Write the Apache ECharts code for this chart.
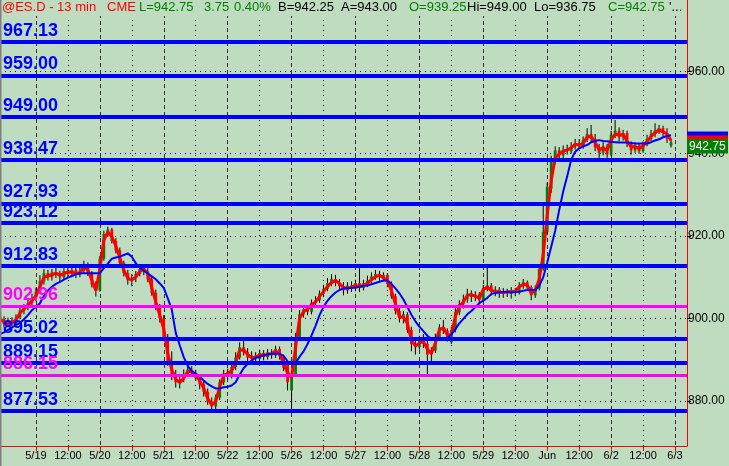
<!DOCTYPE html>
<html><head><meta charset="utf-8">
<script src="https://cdn.jsdelivr.net/npm/echarts@6/dist/echarts.min.js"></script>
<style>html,body{margin:0;padding:0;background:#c0dcc0;}#c{width:729px;height:466px;}</style>
</head><body><div id="c"></div>
<script>
// ---- data ----
const dayLabels = ['5/19','5/20','5/21','5/22','5/26','5/27','5/28','5/29','Jun','6/2','6/3'];
const noonLabel = '12:00';
const barCount = 173;          // slots on the time axis
const firstTickBar = 9;        // bar index of the first day boundary (5/19)
const barsPerHalfDay = 8;

const opens = [900.5,899.8,898.6,899.4,898.7,900.2,901.9,902.6,903.8,904.9,
906.5,909.0,911.0,910.0,911.2,910.6,910.0,911.5,910.8,911.8,
910.6,911.6,913.0,911.0,908.2,906.8,914.5,920.5,921.6,918.8,
916.5,913.5,911.0,909.3,909.8,910.8,912.0,911.4,909.5,906.2,
902.8,900.0,895.5,889.5,886.2,884.5,885.2,886.5,887.6,886.6,
885.5,884.0,882.2,879.8,878.6,880.8,884.5,886.6,886.0,888.2,
890.5,893.0,891.8,890.5,891.0,890.2,891.6,890.6,891.8,891.0,
892.6,890.8,889.0,882.5,886.5,895.5,901.0,902.2,901.6,903.8,
904.4,906.0,907.2,908.6,909.6,908.6,907.8,906.8,908.0,907.2,
908.6,907.4,908.6,909.2,910.2,910.8,910.0,910.6,908.4,905.4,
901.8,900.0,901.0,897.2,893.8,893.0,895.0,893.8,891.2,892.2,
895.5,897.8,897.0,894.2,897.2,901.5,903.5,904.6,906.0,905.2,
905.8,904.4,907.4,908.0,906.4,907.0,906.0,906.6,906.0,906.8,
906.2,908.0,908.8,907.6,905.6,907.2,912.0,921.0,931.5,938.0,
940.8,939.6,941.0,940.6,941.8,942.6,941.8,943.4,944.8,943.6,
941.6,940.2,941.8,939.8,944.6,945.6,944.0,945.0,942.4,940.8,
942.0,940.6,942.4,943.6,944.8,945.6,946.2,945.0,942.0];

const closes = [899.8,898.6,899.4,898.7,900.2,901.9,902.6,903.8,904.9,906.5,
909.0,911.0,910.0,911.2,910.6,910.0,911.5,910.8,911.8,910.6,
911.6,913.0,911.0,908.2,906.8,914.5,920.5,921.6,918.8,916.5,
913.5,911.0,909.3,909.8,910.8,912.0,911.4,909.5,906.2,902.8,
900.0,895.5,889.5,886.2,884.5,885.2,886.5,887.6,886.6,885.5,
884.0,882.2,879.8,878.6,880.8,884.5,886.6,886.0,888.2,890.5,
893.0,891.8,890.5,891.0,890.2,891.6,890.6,891.8,891.0,892.6,
890.8,888.0,884.5,886.5,895.5,901.0,902.2,901.6,903.8,904.4,
906.0,907.2,908.6,909.6,908.6,907.8,906.8,908.0,907.2,908.6,
907.4,908.6,909.2,910.2,910.8,910.0,910.6,908.4,905.4,901.8,
900.0,901.0,897.2,893.8,893.0,895.0,893.8,891.2,892.2,895.5,
897.8,897.0,895.2,897.2,901.5,903.5,904.6,906.0,905.2,905.8,
904.4,907.4,908.0,906.4,907.0,906.0,906.6,906.0,906.8,906.2,
908.0,908.8,907.6,905.6,907.2,912.0,921.0,932.0,938.0,940.8,
939.6,941.0,940.6,941.8,942.6,941.8,943.4,944.8,943.6,941.6,
940.2,941.8,939.8,944.6,945.6,944.0,945.0,942.4,940.8,942.0,
940.6,942.4,943.6,944.8,945.6,946.2,945.0,943.6,942.75];

const lows = [898.5,897.8,898.0,898.0,898.2,899.8,901.0,902.0,903.0,904.2,
906.0,908.2,909.2,909.2,909.8,908.8,909.5,910.0,910.2,909.8,
910.0,910.8,910.3,907.5,905.3,906.5,914.0,919.8,918.2,915.8,
912.8,910.2,908.2,907.8,908.8,910.2,910.5,908.8,905.5,902.0,
899.0,894.5,888.5,885.0,883.2,883.0,884.5,885.8,885.8,884.8,
882.8,881.0,879.0,877.5,878.0,880.2,883.8,885.2,885.4,887.5,
890.0,891.0,889.6,889.5,889.2,889.8,889.8,890.0,890.2,890.4,
890.0,887.2,882.5,877.8,886.0,895.0,900.2,900.8,901.0,903.0,
903.8,905.2,906.6,907.8,907.8,906.8,905.6,906.0,906.4,906.6,
906.4,906.8,907.6,908.4,909.4,909.2,909.0,907.6,904.8,901.0,
899.0,898.8,896.5,892.0,891.2,892.4,892.8,886.3,889.5,891.6,
895.0,896.2,894.4,893.8,896.6,900.8,902.4,903.8,904.0,904.2,
903.6,904.0,906.6,905.6,905.4,905.0,905.0,905.2,904.8,905.4,
905.8,907.2,906.8,904.4,905.0,906.8,911.6,920.5,930.5,937.4,
938.8,938.8,939.8,940.0,941.0,941.2,941.2,942.8,942.6,940.6,
939.0,939.6,939.0,939.4,943.8,943.0,943.2,941.6,939.8,940.2,
940.0,940.2,941.8,943.0,944.0,944.8,944.2,942.6,941.5];

const highs = [901.5,900.5,900.2,900.3,901.0,902.6,903.5,904.8,906.0,907.5,
910.5,912.0,911.8,912.0,912.4,911.6,912.2,912.6,912.4,912.3,
912.5,914.0,913.6,911.5,909.0,915.2,921.3,922.3,922.0,919.5,
917.2,914.0,911.8,910.8,911.5,913.0,913.2,912.2,910.2,907.0,
903.5,900.8,896.2,892.0,887.5,886.5,887.6,888.8,888.4,887.5,
886.2,885.0,883.0,880.8,881.5,885.2,887.5,887.8,889.0,891.8,
894.2,894.5,892.8,892.0,891.8,892.4,892.3,892.6,892.6,893.4,
893.2,891.2,889.5,887.0,896.5,902.0,903.2,903.0,904.6,905.4,
906.8,908.2,909.8,910.8,910.6,909.6,908.8,908.8,909.0,909.4,
912.2,909.4,910.4,911.2,911.8,911.6,911.2,911.0,909.0,906.0,
902.6,901.8,901.5,898.0,895.0,895.8,896.2,894.5,893.0,896.3,
898.6,899.6,897.6,898.0,902.5,904.4,905.8,907.2,906.8,906.6,
906.4,908.2,912.3,908.6,907.8,907.6,907.4,907.2,907.6,907.4,
908.8,909.6,909.2,908.0,908.0,913.0,927.5,933.0,939.5,941.8,
941.6,942.0,942.2,942.8,943.6,943.6,944.2,946.2,947.0,944.8,
942.4,942.8,942.4,945.6,948.2,946.4,945.8,945.6,943.0,942.8,
942.6,943.0,944.6,945.8,947.4,947.0,946.8,946.2,943.6];

const fastMA = [899.8,899.2,898.9,899.0,899.6,901.3,902.3,903.2,904.3,905.5,
907.7,910.0,910.3,910.6,911.0,910.5,910.9,911.3,911.2,911.0,
911.0,912.6,911.8,909.3,906.8,912.0,919.0,921.0,919.8,917.6,
914.7,911.7,909.8,909.3,910.1,911.4,912.0,910.9,907.5,904.0,
900.8,897.5,891.5,887.5,885.2,884.4,885.5,887.1,887.1,886.2,
884.9,883.0,880.6,879.0,879.8,883.4,886.0,886.7,887.3,889.3,
892.3,892.4,891.2,890.4,890.6,891.1,891.1,891.2,891.5,892.1,
891.5,889.0,886.8,885.6,893.0,900.0,901.7,902.2,903.3,904.0,
905.3,906.5,907.8,908.7,909.2,908.5,907.5,907.3,907.6,908.0,
907.7,908.0,908.6,909.4,910.1,910.5,909.9,909.0,906.8,903.5,
900.4,900.3,898.8,894.7,893.3,894.0,894.5,892.5,891.5,894.0,
897.2,897.8,896.0,896.0,900.5,902.9,904.0,905.6,905.8,905.4,
904.9,907.0,907.6,906.8,906.5,906.5,906.2,906.5,906.5,906.6,
907.7,908.3,908.1,906.1,906.8,909.5,915.5,925.0,933.5,939.0,
939.9,940.6,940.9,941.4,942.3,942.1,942.5,944.1,944.2,942.8,
940.9,941.4,940.8,943.3,944.8,944.5,944.7,943.0,941.7,941.7,
941.3,941.9,943.0,944.2,945.1,945.8,945.3,944.8,943.2];

const slowMA = [896.2,896.6,897.2,897.8,898.4,898.9,899.8,900.8,902.0,902.8,
903.7,905.5,906.8,907.7,908.4,908.9,909.4,909.9,910.3,910.7,
911.0,911.0,911.0,911.0,911.0,911.0,912.2,913.3,914.5,914.8,
915.0,915.4,915.8,915.0,913.4,912.3,911.6,910.9,910.2,909.5,
908.5,907.4,904.9,902.2,896.5,893.5,890.6,888.5,887.2,886.6,
885.9,884.9,884.1,883.5,883.0,883.0,883.3,883.4,883.7,884.5,
886.3,887.9,889.0,889.8,890.4,890.7,891.0,891.3,891.4,891.4,
891.4,890.9,889.6,888.9,889.1,890.7,892.0,893.8,895.9,898.2,
900.8,902.8,904.3,905.4,906.3,906.9,907.3,907.3,907.4,907.5,
907.7,907.9,908.0,908.3,908.6,908.9,909.2,909.2,908.4,907.3,
906.1,904.6,902.8,900.9,899.3,898.0,896.9,895.8,895.0,894.8,
894.8,895.0,895.3,896.1,897.4,898.8,899.9,901.0,901.8,902.7,
903.7,904.3,905.0,905.9,906.2,906.3,906.4,906.5,906.3,906.4,
906.5,906.7,906.9,906.9,906.9,907.9,910.0,913.5,917.4,921.3,
926.3,930.8,934.5,938.5,940.5,941.3,941.8,942.1,942.8,943.1,
943.3,943.1,943.0,942.9,942.8,942.7,942.7,942.7,942.6,942.5,
942.5,942.5,942.5,942.8,943.2,943.5,944.0,944.3,944.5];

const blueLevels = [967.13, 959.00, 949.00, 938.47, 927.93, 923.12, 912.83, 895.02, 889.15, 877.53];
const magentaLevels = [902.96, 886.15];
const lastPrice = 942.75;
const tagLevels = {blue: 943.64, red: 942.68, green: 941.81};
const header = [
  ['@ES.D - 13 min', '#ff0000', 2], ['CME', '#ff0000', 107],
  ['L=942.75', '#008000', 139], ['3.75', '#008000', 204], ['0.40%', '#008000', 234],
  ['B=942.25', '#000000', 278], ['A=943.00', '#000000', 341],
  ['O=939.25', '#008000', 409], ['Hi=949.00', '#000000', 467],
  ['Lo=936.75', '#000000', 534], ['C=942.75', '#008000', 608], ["'...", '#000000', 669]
];
const yMin = 869.02, yMax = 977.33;

// ---- build ----
const categories = [];
for (let i = 0; i < barCount; i++) {
  let lab = '';
  if (i >= firstTickBar && (i - firstTickBar) % barsPerHalfDay === 0) {
    const k = (i - firstTickBar) / barsPerHalfDay;
    lab = k % 2 === 0 ? (dayLabels[k / 2] || '') : noonLabel;
  }
  categories.push(lab);
}
const isTick = i => i >= firstTickBar && (i - firstTickBar) % barsPerHalfDay === 0;
const isDay = i => isTick(i) && ((i - firstTickBar) / barsPerHalfDay) % 2 === 0;
const isNoon = i => isTick(i) && ((i - firstTickBar) / barsPerHalfDay) % 2 === 1;

const candleData = opens.map((o, i) => [i, o, closes[i], lows[i], highs[i]]);
const FONT = 'Liberation Sans, Arial, sans-serif';

const levelLines = blueLevels.map(v => ({yAxis: v, lineStyle: {color: '#0000ff', width: 4, type: 'solid'}, label: {color: '#0000ff'}}))
  .concat(magentaLevels.map(v => ({yAxis: v, lineStyle: {color: '#ff00ff', width: 3, type: 'solid'}, label: {color: '#ff00ff'}})));

const tagLabel = (bg, fg, txt) => ({show: true, position: 'end', distance: 0, backgroundColor: bg, color: fg,
  width: 37, height: 12.5, padding: [1, 2], fontSize: 12, fontFamily: FONT, lineHeight: 13, align: 'left',
  verticalAlign: 'middle', formatter: txt});

const chart = echarts.init(document.getElementById('c'), null, {renderer: 'canvas'});
chart.setOption({
  animation: false,
  backgroundColor: '#c0dcc0',
  grid: {left: 0, right: 42, top: 0, bottom: 20, containLabel: false},
  xAxis: [{
    type: 'category', data: categories, boundaryGap: false,
    axisLine: {lineStyle: {color: '#ff0000', width: 1}},
    axisTick: {show: true, interval: (i) => isTick(i), length: 5, lineStyle: {color: '#ff0000'}},
    axisLabel: {interval: (i) => isTick(i), color: '#000', fontSize: 11, fontFamily: FONT, margin: 4},
    splitLine: {show: true, interval: (i) => isDay(i), lineStyle: {color: '#303030', type: [4, 3], width: 1}}
  }, {
    type: 'category', data: categories, boundaryGap: false, position: 'bottom',
    axisLine: {show: false}, axisTick: {show: false}, axisLabel: {show: false},
    splitLine: {show: true, interval: (i) => isNoon(i), lineStyle: {color: '#000', type: [1, 4], width: 1}}
  }],
  yAxis: {
    type: 'value', position: 'right', min: yMin, max: yMax, scale: true,
    axisLine: {show: true, lineStyle: {color: '#ff0000', width: 1}},
    axisTick: {show: true, length: 4, lineStyle: {color: '#000'}},
    axisLabel: {color: '#000', fontSize: 12, fontFamily: FONT, margin: 1, showMinLabel: false, showMaxLabel: false,
      formatter: v => (Math.abs(v % 20) < 1e-6 ? v.toFixed(2) : '')},
    splitLine: {show: true, showMinLine: false, showMaxLine: false, lineStyle: {color: '#000', type: [1, 4], width: 1}}
  },
  graphic: [
    {type: 'rect', left: 0, top: 0, shape: {width: 686, height: 16}, style: {fill: '#c0dcc0'}, z: 100},
    {type: 'rect', left: 0, top: 0, shape: {width: 1.5, height: 466}, style: {fill: '#808080'}, z: 101}
  ].concat(header.map(h => ({type: 'text', left: h[2], top: 1, z: 102,
      style: {text: h[0], fill: h[1], font: '13px ' + FONT}}))),
  series: [{
    type: 'custom', name: 'candles', z: 2, xAxisIndex: 0,
    renderItem: (params, api) => {
      const i = api.value(0);
      const po = api.coord([i, api.value(1)]), pc = api.coord([i, api.value(2)]);
      const pl = api.coord([i, api.value(3)]), ph = api.coord([i, api.value(4)]);
      const w = 2.8;
      const up = api.value(2) >= api.value(1);
      return {type: 'group', children: [
        {type: 'line', shape: {x1: ph[0], y1: ph[1], x2: pl[0], y2: pl[1]}, style: {stroke: '#000', lineWidth: 1}},
        {type: 'rect', shape: {x: po[0] - w / 2, y: Math.min(po[1], pc[1]), width: w, height: Math.max(1, Math.abs(po[1] - pc[1]))},
          style: {fill: up ? '#008000' : '#ff0000'}}
      ]};
    },
    encode: {x: 0, y: [1, 2, 3, 4]},
    data: candleData
  }, {
    type: 'line', name: 'fast', data: fastMA, symbol: 'none', z: 3,
    lineStyle: {color: '#ff0000', width: 3}
  }, {
    type: 'line', name: 'slow', data: slowMA, symbol: 'none', z: 4,
    lineStyle: {color: '#0000ff', width: 2}
  }, {
    type: 'line', name: 'levels', data: [], z: 5,
    markLine: {silent: true, symbol: ['none', 'none'], animation: false,
      label: {show: true, position: 'insideStartTop', distance: [3, 2], fontSize: 18, fontWeight: 'bold', fontFamily: FONT,
        formatter: p => Number(p.value).toFixed(2)},
      data: levelLines}
  }, {
    type: 'line', name: 'tags', data: [], z: 6,
    markLine: {silent: true, symbol: ['none', 'none'], animation: false,
      lineStyle: {color: 'rgba(0,0,0,0)', width: 1},
      data: [
        {yAxis: tagLevels.blue, label: tagLabel('#0000ff', '#0000ff', lastPrice.toFixed(2))},
        {yAxis: tagLevels.red, label: tagLabel('#ff0000', '#ff0000', lastPrice.toFixed(2))},
        {yAxis: tagLevels.green, label: tagLabel('#008000', '#ffffff', lastPrice.toFixed(2))}
      ]}
  }]
});
</script></body></html>
